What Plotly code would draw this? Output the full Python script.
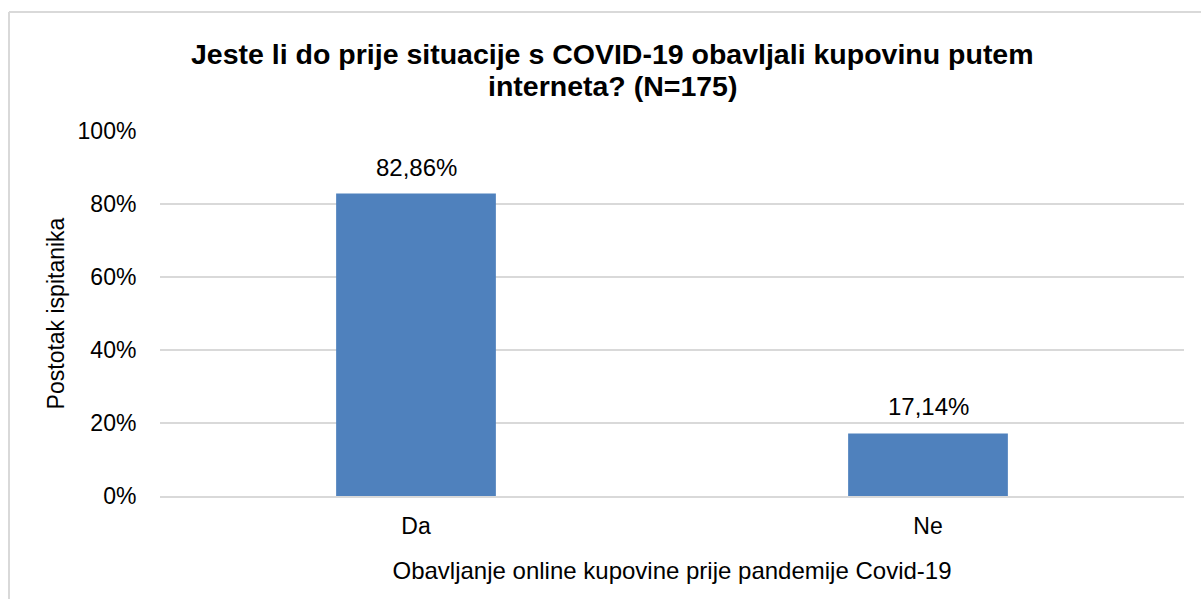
import plotly.graph_objects as go

categories = ["Da", "Ne"]
values = [82.86, 17.14]
value_labels = ["82,86%", "17,14%"]
y_ticks = [0, 20, 40, 60, 80, 100]
y_tick_labels = ["0%", "20%", "40%", "60%", "80%", "100%"]
title_lines = ["Jeste li do prije situacije s COVID-19 obavljali kupovinu putem",
               "interneta? (N=175)"]

W, H = 1201, 599
L, R, T, B = 160, 17, 131, 103
pw, ph = W - L - R, H - T - B

def px_x(p):
    return (p - L) / pw

def px_y(p):
    return (H - B - p) / ph

fig = go.Figure()
fig.add_trace(go.Bar(
    x=categories, y=values, width=0.312,
    marker=dict(color="#4F81BD", line=dict(width=0)),
    hoverinfo="skip",
))

for c, v, t in zip(categories, values, value_labels):
    fig.add_annotation(x=c, y=v, text=t, showarrow=False, yanchor="bottom",
                       yshift=11, font=dict(size=24, color="#000000"))

for line, ypx in zip(title_lines, [54, 86]):
    fig.add_annotation(xref="paper", yref="paper", x=px_x(612), y=px_y(ypx),
                       text="<b>" + line + "</b>", showarrow=False,
                       xanchor="center", yanchor="middle",
                       font=dict(size=28.5, color="#000000"))

# chart border (top and left lines)
fig.add_shape(type="line", xref="paper", yref="paper",
              x0=px_x(9), x1=px_x(1210), y0=px_y(12), y1=px_y(12),
              line=dict(color="#D9D9D9", width=2))
fig.add_shape(type="line", xref="paper", yref="paper",
              x0=px_x(9), x1=px_x(9), y0=px_y(12), y1=px_y(610),
              line=dict(color="#D9D9D9", width=2))

fig.update_layout(
    width=W, height=H,
    margin=dict(l=L, r=R, t=T, b=B),
    paper_bgcolor="white", plot_bgcolor="white",
    font=dict(family="Liberation Sans, Arial, sans-serif", size=23, color="#000000"),
    showlegend=False,
    bargap=0.688,
)
fig.update_yaxes(
    range=[0, 100], tickvals=y_ticks, ticktext=y_tick_labels,
    showgrid=True, gridcolor="#D9D9D9", gridwidth=2,
    zeroline=False, showline=False,
    ticks="outside", ticklen=18, tickcolor="rgba(0,0,0,0)",
    tickfont=dict(size=23),
    title=dict(text="Postotak ispitanika", font=dict(size=23), standoff=6),
)
fig.update_xaxes(
    showgrid=False, showline=True, linecolor="#D9D9D9", linewidth=2,
    ticks="outside", ticklen=8, tickcolor="rgba(0,0,0,0)",
    tickfont=dict(size=23),
    title=dict(text="Obavljanje online kupovine prije pandemije Covid-19",
               font=dict(size=24), standoff=25),
)

fig.write_html("out.html", config={"displayModeBar": False},
               post_script="document.body.style.margin='0';document.body.style.padding='0';")
